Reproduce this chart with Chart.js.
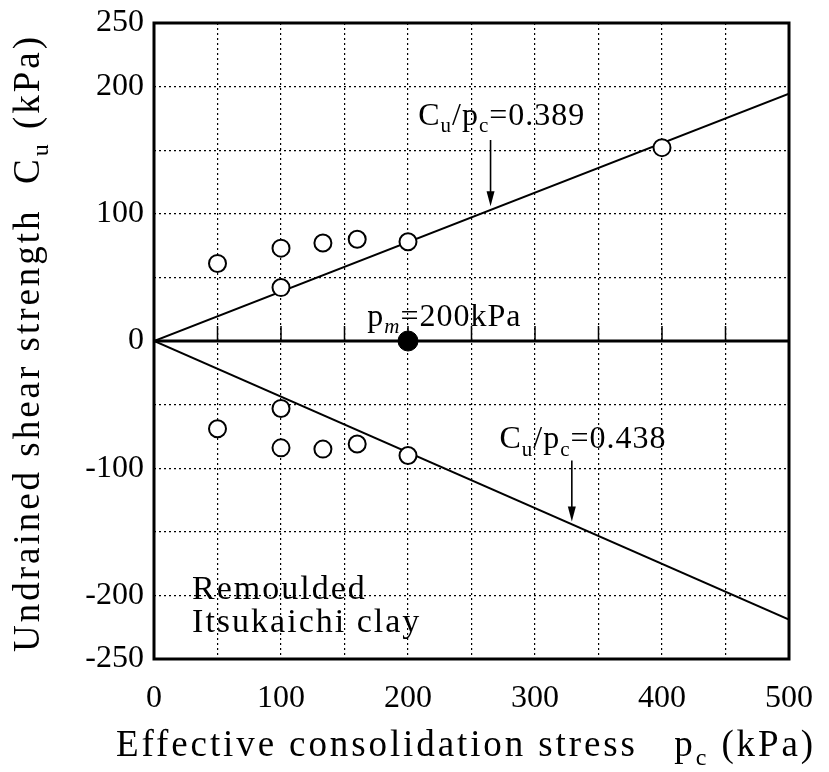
<!DOCTYPE html>
<html>
<head>
<meta charset="utf-8">
<title>Undrained shear strength vs effective consolidation stress</title>
<script src="https://cdn.jsdelivr.net/npm/chart.js@4.4.1/dist/chart.umd.min.js"></script>
<style>
  html, body { margin: 0; padding: 0; background: #fff; }
  #wrap { width: 829px; height: 772px; }
</style>
</head>
<body>
<div id="wrap"><canvas id="cuChart"></canvas></div>
<script>
// ---- data ----
const pcValues      = [50, 100, 100, 133, 160, 200, 400];   // compression side pc (kPa)
const cuCompression = [61, 73, 42, 77, 80, 78, 152];         // Cu (kPa)
const pcExtension   = [50, 100, 100, 133, 160, 200];
const cuExtension   = [-69, -53, -84, -85, -81, -90];
const pmPoint       = [200, 0];                               // pm = 200 kPa
const ratioComp     = 0.389;
const ratioExt      = 0.438;
const pcRange       = [0, 500];
const cuRange       = [-250, 250];
const xTickLabels   = [0, 100, 200, 300, 400, 500];
const yTickLabels   = [250, 200, 100, 0, -100, -200, -250];

const SERIF = "'Liberation Serif', 'Times New Roman', serif";

const compPts = pcValues.map((x, i) => ({ x, y: cuCompression[i] }));
const extPts  = pcExtension.map((x, i) => ({ x, y: cuExtension[i] }));
const lineComp = pcRange.map(x => ({ x, y: ratioComp * x }));
const lineExt  = pcRange.map(x => ({ x, y: -ratioExt * x }));
const zeroLine = pcRange.map(x => ({ x, y: 0 }));

// text with subscripts, drawn part by part
function drawRich(ctx, parts, x, y, size, spacing, align) {
  const fontOf = p => (p.italic ? 'italic ' : '') + Math.round(p.sub ? size * 0.66 : size) + 'px ' + SERIF;
  ctx.letterSpacing = spacing + 'px';
  const widths = parts.map(p => { ctx.font = fontOf(p); return ctx.measureText(p.t).width; });
  const total = widths.reduce((s, w) => s + w, 0);
  let cx = align === 'center' ? x - total / 2 : x;
  ctx.textAlign = 'left';
  ctx.textBaseline = 'alphabetic';
  parts.forEach((p, i) => {
    ctx.font = fontOf(p);
    ctx.fillText(p.t, cx, y + (p.sub ? size * 0.24 : 0));
    cx += widths[i];
  });
  ctx.letterSpacing = '0px';
}

function fitSpacing(ctx, parts, size, target) {
  let w = 0, n = 0;
  ctx.letterSpacing = '0px';
  parts.forEach(p => {
    ctx.font = (p.italic ? 'italic ' : '') + Math.round(p.sub ? size * 0.66 : size) + 'px ' + SERIF;
    w += ctx.measureText(p.t).width;
    n += p.t.length;
  });
  return Math.max(0, (target - w) / n);
}

function arrowDown(ctx, x, y0, y1) {
  ctx.lineWidth = 1.6;
  ctx.beginPath();
  ctx.moveTo(x, y0);
  ctx.lineTo(x, y1 - 12);
  ctx.stroke();
  ctx.beginPath();
  ctx.moveTo(x, y1);
  ctx.lineTo(x - 4, y1 - 15);
  ctx.lineTo(x + 4, y1 - 15);
  ctx.closePath();
  ctx.fill();
}

const annotations = [
  { parts: [{ t: 'C' }, { t: 'u', sub: true }, { t: '/p' }, { t: 'c', sub: true }, { t: '=0.389' }], x: 208, y: 170 },
  { parts: [{ t: 'C' }, { t: 'u', sub: true }, { t: '/p' }, { t: 'c', sub: true }, { t: '=0.438' }], x: 272, y: -84 },
  { parts: [{ t: 'p' }, { t: 'm', sub: true, italic: true }, { t: '=200kPa' }], x: 168, y: 12 }
];
const arrows = [
  { x: 265, from: 158, to: 106 },
  { x: 329, from: -94, to: -142 }
];
const clayLabel = ['Remoulded', 'Itsukaichi clay'];
const clayLabelPos = { x: 30, y: [-203, -229] };

const decor = {
  id: 'decor',
  beforeDatasetsDraw(chart) {
    // short solid ticks sitting on the pm line
    const { ctx, scales: { x, y } } = chart;
    const y0 = y.getPixelForValue(0);
    ctx.save();
    ctx.strokeStyle = '#000';
    ctx.lineWidth = 1.5;
    for (let v = 50; v < 500; v += 50) {
      const px = x.getPixelForValue(v);
      ctx.beginPath();
      ctx.moveTo(px, y0 - 15);
      ctx.lineTo(px, y0);
      ctx.stroke();
    }
    ctx.restore();
  },
  afterDraw(chart) {
    const { ctx, chartArea: a, scales: { x, y } } = chart;
    ctx.save();
    ctx.strokeStyle = '#000';
    ctx.fillStyle = '#000';
    ctx.lineWidth = 3;
    ctx.setLineDash([]);
    ctx.strokeRect(a.left, a.top, a.right - a.left, a.bottom - a.top);

    annotations.forEach(an => drawRich(ctx, an.parts, x.getPixelForValue(an.x), y.getPixelForValue(an.y), 32, 1, 'left'));
    arrows.forEach(ar => arrowDown(ctx, x.getPixelForValue(ar.x), y.getPixelForValue(ar.from), y.getPixelForValue(ar.to)));
    clayLabel.forEach((t, i) => drawRich(ctx, [{ t }], x.getPixelForValue(clayLabelPos.x), y.getPixelForValue(clayLabelPos.y[i]), 34, 2, 'left'));

    // axis titles
    const xTitle = [{ t: 'Effective consolidation stress   p' }, { t: 'c', sub: true }, { t: ' (kPa)' }];
    drawRich(ctx, xTitle, 466, 756, 37, fitSpacing(ctx, xTitle, 37, 700), 'center');

    const yTitle = [{ t: 'Undrained shear strength  C' }, { t: 'u', sub: true }, { t: ' (kPa)' }];
    ctx.translate(39, 343);
    ctx.rotate(-Math.PI / 2);
    drawRich(ctx, yTitle, 0, 0, 37, fitSpacing(ctx, yTitle, 37, 618), 'center');
    ctx.restore();
  }
};

const tickFont = { family: SERIF, size: 32 };

new Chart(document.getElementById('cuChart'), {
  type: 'scatter',
  data: {
    datasets: [
      { label: 'pm', data: [{ x: pmPoint[0], y: pmPoint[1] }], pointRadius: 10, pointBackgroundColor: '#000', pointBorderColor: '#000', order: 0 },
      { label: 'compression', data: compPts, pointRadius: 8.5, pointBorderWidth: 2, pointBackgroundColor: '#fff', pointBorderColor: '#000', order: 1 },
      { label: 'extension', data: extPts, pointRadius: 8.5, pointBorderWidth: 2, pointBackgroundColor: '#fff', pointBorderColor: '#000', order: 1 },
      { label: 'Cu/pc=0.389', data: lineComp, showLine: true, borderColor: '#000', borderWidth: 2, pointRadius: 0, order: 2 },
      { label: 'Cu/pc=0.438', data: lineExt, showLine: true, borderColor: '#000', borderWidth: 2, pointRadius: 0, order: 2 },
      { label: 'zero', data: zeroLine, showLine: true, borderColor: '#000', borderWidth: 3, pointRadius: 0, order: 2 }
    ]
  },
  options: {
    responsive: true,
    maintainAspectRatio: false,
    animation: false,
    layout: { padding: { left: 0, right: 40, top: 23, bottom: 0 } },
    plugins: { legend: { display: false }, tooltip: { enabled: false } },
    scales: {
      x: {
        type: 'linear', min: pcRange[0], max: pcRange[1],
        afterFit: s => { s.height = 113; s.paddingLeft = 0; s.paddingRight = 0; },
        ticks: {
          stepSize: 50, color: '#000', font: tickFont, padding: 20, maxRotation: 0,
          callback: v => xTickLabels.includes(v) ? String(v) : ''
        },
        grid: { color: '#000', lineWidth: 1.2, drawTicks: false },
        border: { display: false, dash: [2, 3] }
      },
      y: {
        type: 'linear', min: cuRange[0], max: cuRange[1],
        afterFit: s => { s.width = 154; s.paddingTop = 0; s.paddingBottom = 0; },
        ticks: {
          stepSize: 50, color: '#000', font: tickFont, padding: 10,
          callback: v => yTickLabels.includes(v) ? String(v) : ''
        },
        grid: { color: '#000', lineWidth: 1.2, drawTicks: false },
        border: { display: false, dash: [2, 3] }
      }
    }
  },
  plugins: [decor]
});
</script>
</body>
</html>
